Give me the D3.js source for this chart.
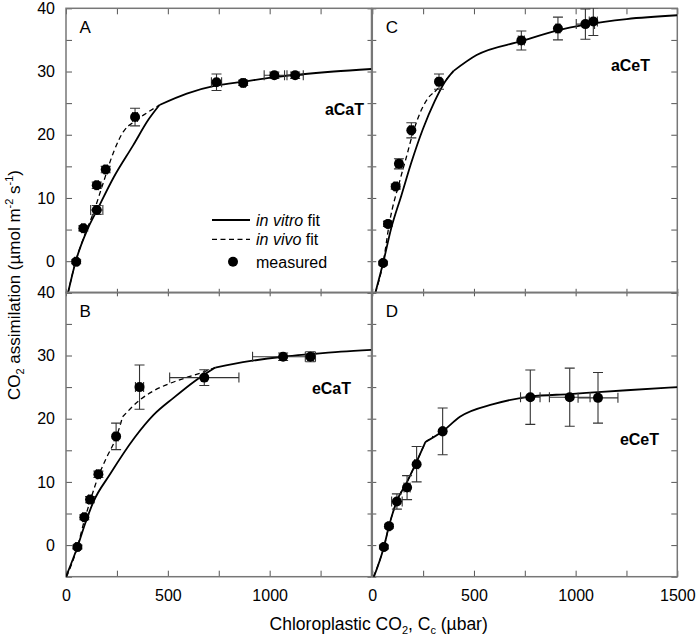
<!DOCTYPE html>
<html><head><meta charset="utf-8">
<script src="https://cdn.jsdelivr.net/npm/d3@7"></script>
<style>body{margin:0;background:#fff} text{font-family:"Liberation Sans",Arial,Helvetica,sans-serif;fill:#000}</style>
</head><body><svg id="c" width="700" height="639"></svg>
<script>
// ---------- data ----------
const yTicks = [-5,0,5,10,15,20,25,30,35,40];
const yLabels = [0,10,20,30,40];
const xTicks = [0,250,500,750,1000,1250,1500];
const xLabelsLeft = [0,500,1000];
const xLabelsRight = [0,500,1000,1500];

// Panel A (aCaT)
const aX = [50, 85, 151, 151, 195, 339, 739, 870, 1023, 1125];
const aY = [-0.1, 5.2, 8.1, 12.0, 14.5, 22.8, 28.3, 28.2, 29.4, 29.4];
const aEy = [0.3, 0.4, 0.7, 0.5, 0.5, 1.4, 1.3, 0.4, 0.5, 0.5];
const aEx = [8, 8, 30, 8, 8, 12, 25, 10, 50, 40];
const aVitroLow = [[10,-5],[48,0],[105,5.0],[156,8.3],[233,13.2],[331,18.4],[405,22.4],[459,24.7]];
const aVitroHigh = [[459,24.7],[593,26.5],[739,27.8],[870,28.4],[1023,29.1],[1315,30.0],[1500,30.4]];
const aVivoLow = [[10,-5],[48,0],[90,4.0],[134,7.6],[180,12.1],[233,17.2],[282,20.5],[306,21.4]];
const aVivoHigh = [[306,21.4],[380,23.1],[459,24.7]];

// Panel B (eCaT)
const bX = [56, 90, 118, 159, 246, 361, 679, 1066, 1200];
const bY = [-0.3, 4.4, 7.2, 11.2, 17.2, 25.0, 26.5, 29.8, 29.8];
const bEy = [0.3, 0.4, 0.5, 0.5, 2.1, 3.5, 1.25, 0.6, 0.8];
const bEx = [8, 8, 8, 10, 10, 20, 170, 150, 25];
const bVitroLow = [[0,-5],[56,-0.3],[95,3.5],[134,6.8],[216,11.2],[339,17.1],[430,20.6],[528,23.3],[630,25.9],[733,28.1]];
const bVitroHigh = [[733,28.1],[900,29.1],[1066,29.8],[1200,30.2],[1350,30.6],[1500,30.9]];
const bVivoLow = [[3,-5],[56,-0.3],[90,3.9],[118,6.9],[159,10.9],[200,13.9],[246,17.0],[278,20.3]];
const bVivoHigh = [[278,20.3],[364,23.0],[430,24.4],[511,25.6],[600,26.6],[676,27.4],[733,28.1]];

// Panel C (aCeT)
const cX = [53, 77, 115, 131, 192, 328, 733, 913, 1048, 1087];
const cY = [-0.3, 5.9, 11.8, 15.4, 20.7, 28.4, 34.9, 36.8, 37.5, 37.9];
const cEy = [0.3, 0.4, 0.4, 0.8, 1.2, 1.2, 1.5, 1.8, 2.4, 2.2];
const cEx = [5, 5, 8, 15, 10, 10, 15, 10, 45, 20];
const cVitroLow = [[15,-5],[53,-0.3],[93,5.2],[143,10.4],[192,15.6],[249,20.9],[307,25.3],[356,28.3],[400,30.1]];
const cVitroHigh = [[400,30.1],[513,32.6],[733,34.8],[913,36.5],[1048,37.4],[1251,38.3],[1500,38.9]];
const cVivoLow = [[15,-5],[53,-0.3],[85,6.2],[135,12.7],[167,16.4],[200,20.3],[241,23.9],[282,26.1],[307,26.8]];
const cVivoHigh = [[307,26.8],[355,28.4],[400,30.1]];

// Panel D (eCeT)
const dX = [57, 82, 121, 171, 218, 346, 777, 971, 1110];
const dY = [-0.3, 3.0, 6.9, 9.1, 12.8, 18.0, 23.4, 23.4, 23.3];
const dEy = [0.3, 0.3, 1.2, 1.9, 2.8, 3.7, 4.3, 4.6, 4.0];
const dEx = [5, 5, 26, 15, 10, 5, 48, 100, 98];
const dVitroLow = [[8,-5],[57,-0.3],[82,3.0],[121,7.0],[171,10.0],[218,13.2],[261,16.3]];
const dVitroHigh = [[261,16.3],[346,18.0],[431,20.3],[595,22.3],[777,23.5],[971,23.9],[1110,24.2],[1251,24.5],[1500,25.0]];
const dVivoLow = [[6,-5],[57,-0.3],[82,3.0],[121,7.0],[171,10.0],[218,13.2],[261,16.3]];
const dVivoHigh = [[261,16.3],[300,17.2]];

const panelLetters = ["A","B","C","D"];
const treatments = ["aCaT","eCaT","aCeT","eCeT"];
const legendItems = ["in vitro", "in vivo", "measured"];

// ---------- drawing ----------
const svg = d3.select("#c");
const panels = [
  {letter:0, xs:aX, ys:aY, ex:aEx, ey:aEy, vitro:[aVitroLow,aVitroHigh], vivo:[aVivoLow,aVivoHigh], x0:66, x1:371.5, yTop:8.3, yBot:292.8, col:0, row:0, lab:[364,115]},
  {letter:1, xs:bX, ys:bY, ex:bEx, ey:bEy, vitro:[bVitroLow,bVitroHigh], vivo:[bVivoLow,bVivoHigh], x0:66, x1:371.5, yTop:292.3, yBot:576.7, col:0, row:1, lab:[351,394]},
  {letter:2, xs:cX, ys:cY, ex:cEx, ey:cEy, vitro:[cVitroLow,cVitroHigh], vivo:[cVivoLow,cVivoHigh], x0:372.3, x1:677.3, yTop:8.3, yBot:292.8, col:1, row:0, lab:[650,70.5]},
  {letter:3, xs:dX, ys:dY, ex:dEx, ey:dEy, vitro:[dVitroLow,dVitroHigh], vivo:[dVivoLow,dVivoHigh], x0:372.3, x1:677.3, yTop:292.3, yBot:576.7, col:1, row:1, lab:[659,445]}
];

const defs = svg.append("defs");
const frameCol = "#777";

panels.forEach((p,i)=>{
  const x = d3.scaleLinear().domain([0,1500]).range([p.x0,p.x1]);
  const y = d3.scaleLinear().domain([-5,40]).range([p.yBot,p.yTop]);
  const g = svg.append("g");
  defs.append("clipPath").attr("id","clip"+i).append("rect")
    .attr("x",p.x0).attr("y",p.yTop).attr("width",p.x1-p.x0).attr("height",p.yBot-p.yTop);

  const inL = p.col===0 ? 6 : 4, inR = p.col===1 ? 6 : 4;
  const inT = p.row===0 ? 6 : 4, inB = p.row===1 ? 6 : 4;
  const leftAx = d3.axisLeft(y).tickValues(yTicks).tickSizeInner(-inL).tickSizeOuter(0).tickPadding(11)
    .tickFormat(d => (p.col===0 && yLabels.includes(d)) ? d : "");
  const rightAx = d3.axisRight(y).tickValues(yTicks).tickSizeInner(-inR).tickSizeOuter(0).tickFormat("");
  const topAx = d3.axisTop(x).tickValues(xTicks).tickSizeInner(-inT).tickSizeOuter(0).tickFormat("");
  const botAx = d3.axisBottom(x).tickValues(xTicks).tickSizeInner(-inB).tickSizeOuter(0).tickPadding(13)
    .tickFormat(d => p.row===1 ? ((p.col===0 ? xLabelsLeft : xLabelsRight).includes(d) ? d : "") : "");
  const axs = [
    g.append("g").attr("transform",`translate(${p.x0},0)`).call(leftAx),
    g.append("g").attr("transform",`translate(${p.x1},0)`).call(rightAx),
    g.append("g").attr("transform",`translate(0,${p.yTop})`).call(topAx),
    g.append("g").attr("transform",`translate(0,${p.yBot})`).call(botAx)
  ];
  axs.forEach(a=>{
    a.select(".domain").remove();
    a.selectAll(".tick line").attr("stroke","#555").attr("stroke-width",1);
    a.selectAll("text").attr("font-size",16).attr("font-family",'"Liberation Sans",Arial,sans-serif').attr("fill","#000");
  });

  g.append("rect").attr("x",p.x0).attr("y",p.yTop).attr("width",p.x1-p.x0).attr("height",p.yBot-p.yTop)
    .attr("fill","none").attr("stroke",frameCol).attr("stroke-width",1.5);

  const cg = g.append("g").attr("clip-path",`url(#clip${i})`);
  const line = d3.line().x(d=>x(d[0])).y(d=>y(d[1])).curve(d3.curveMonotoneX);
  p.vivo.forEach(seg=>{
    cg.append("path").attr("d",line(seg)).attr("fill","none").attr("stroke","#000")
      .attr("stroke-width",1.3).attr("stroke-dasharray","5,3.5");
  });
  p.vitro.forEach(seg=>{
    cg.append("path").attr("d",line(seg)).attr("fill","none").attr("stroke","#000").attr("stroke-width",1.8);
  });

  const eb = cg.append("g").attr("stroke","#333").attr("stroke-width",1.1).attr("fill","none");
  p.xs.forEach((xv,j)=>{
    const cx = x(xv), cy = y(p.ys[j]);
    const y1 = y(p.ys[j]+p.ey[j]), y2 = y(p.ys[j]-p.ey[j]);
    const x1 = x(xv-p.ex[j]), x2 = x(xv+p.ex[j]);
    eb.append("line").attr("x1",cx).attr("x2",cx).attr("y1",y1).attr("y2",y2);
    eb.append("line").attr("x1",cx-5).attr("x2",cx+5).attr("y1",y1).attr("y2",y1);
    eb.append("line").attr("x1",cx-5).attr("x2",cx+5).attr("y1",y2).attr("y2",y2);
    eb.append("line").attr("x1",x1).attr("x2",x2).attr("y1",cy).attr("y2",cy);
    eb.append("line").attr("x1",x1).attr("x2",x1).attr("y1",cy-5).attr("y2",cy+5);
    eb.append("line").attr("x1",x2).attr("x2",x2).attr("y1",cy-5).attr("y2",cy+5);
  });
  cg.append("g").selectAll("circle").data(p.xs).join("circle")
    .attr("cx",d=>x(d)).attr("cy",(d,j)=>y(p.ys[j])).attr("r",5).attr("fill","#000");

  g.append("text").attr("x",p.x0+13.5).attr("y",p.yTop+24.4).attr("font-size",17).text(panelLetters[p.letter]);
  g.append("text").attr("x",p.lab[0]).attr("y",p.lab[1]).attr("text-anchor","end")
    .attr("font-size",16).attr("font-weight","bold").text(treatments[p.letter]);
});

// legend (panel A)
const lg = svg.append("g").attr("font-size",16);
lg.append("line").attr("x1",212).attr("x2",250).attr("y1",220).attr("y2",220).attr("stroke","#000").attr("stroke-width",1.8);
lg.append("line").attr("x1",212).attr("x2",250).attr("y1",239.3).attr("y2",239.3).attr("stroke","#000").attr("stroke-width",1.3).attr("stroke-dasharray","5,3.5");
lg.append("circle").attr("cx",233).attr("cy",261.7).attr("r",5).attr("fill","#000");
[[legendItems[0],225.5],[legendItems[1],245]].forEach(([t,yy])=>{
  const tx = lg.append("text").attr("x",256).attr("y",yy);
  tx.append("tspan").attr("font-style","italic").text(t);
  tx.append("tspan").text(" fit");
});
lg.append("text").attr("x",256).attr("y",267.5).text(legendItems[2]);

// axis titles
const yt = svg.append("text").attr("transform","translate(19.5,285) rotate(-90)")
  .attr("text-anchor","middle").attr("font-size",17);
yt.append("tspan").text("CO");
yt.append("tspan").attr("font-size",11).attr("dy",4).text("2");
yt.append("tspan").attr("dy",-4).text(" assimilation (µmol m");
yt.append("tspan").attr("font-size",11).attr("dy",-7).text("-2");
yt.append("tspan").attr("dy",7).text(" s");
yt.append("tspan").attr("font-size",11).attr("dy",-7).text("-1");
yt.append("tspan").attr("dy",7).text(")");

const xt = svg.append("text").attr("x",378.7).attr("y",629.5).attr("text-anchor","middle").attr("font-size",17.5);
xt.append("tspan").text("Chloroplastic CO");
xt.append("tspan").attr("font-size",11).attr("dy",4).text("2");
xt.append("tspan").attr("dy",-4).text(", C");
xt.append("tspan").attr("font-size",11).attr("dy",4).text("c");
xt.append("tspan").attr("dy",-4).text(" (µbar)");
</script></body></html>
